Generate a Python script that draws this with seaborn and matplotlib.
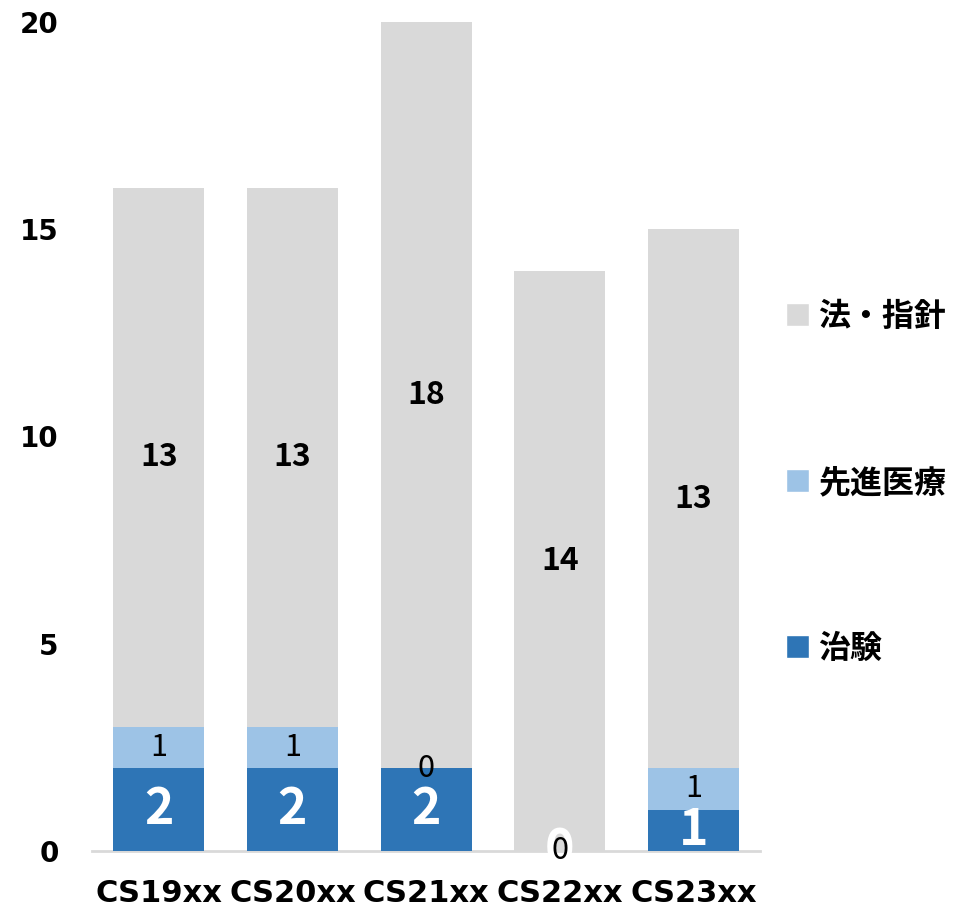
import matplotlib
matplotlib.use("Agg")
import matplotlib.pyplot as plt
import seaborn as sns
import pandas as pd
import numpy as np
from matplotlib.patches import Patch

categories = ["CS19xx", "CS20xx", "CS21xx", "CS22xx", "CS23xx"]
chiken = [2, 2, 2, 0, 1]          # 治験
senshin = [1, 1, 0, 0, 1]         # 先進医療
hoshishin = [13, 13, 18, 14, 13]  # 法・指針
series_names = ["治験", "先進医療", "法・指針"]
y_ticks = [0, 5, 10, 15, 20]

c_dark = "#2E75B6"
c_light = "#9DC3E6"
c_gray = "#D9D9D9"

sns.set_theme(style="white")
plt.rcParams["font.family"] = ["Noto Sans CJK JP", "DejaVu Sans"]
plt.rcParams["text.color"] = "black"
plt.rcParams["xtick.color"] = "black"
plt.rcParams["ytick.color"] = "black"
plt.rcParams["xtick.labelcolor"] = "black"
plt.rcParams["ytick.labelcolor"] = "black"

df = pd.DataFrame({"cat": categories, "chiken": chiken, "senshin": senshin, "ho": hoshishin})
df["c1"] = df["chiken"]
df["c2"] = df["chiken"] + df["senshin"]
df["c3"] = df["c2"] + df["ho"]

fig = plt.figure(figsize=(9.7, 9.11), dpi=100)
ax = fig.add_axes([0.0948, 0.0659, 0.689, 0.910])

w = 0.68
sns.barplot(data=df, x="cat", y="c3", color=c_gray, width=w, saturation=1, linewidth=0, ax=ax)
sns.barplot(data=df, x="cat", y="c2", color=c_light, width=w, saturation=1, linewidth=0, ax=ax)
sns.barplot(data=df, x="cat", y="c1", color=c_dark, width=w, saturation=1, linewidth=0, ax=ax)

jp = ["Noto Sans CJK JP", "DejaVu Sans"]
for i in range(len(categories)):
    a, b, c = chiken[i], senshin[i], hoshishin[i]
    ax.text(i, a / 2, str(a), ha="center", va="center", color="white",
            fontsize=36, fontweight="bold", family=jp)
    ax.text(i, a + b / 2, str(b), ha="center", va="center", color="black",
            fontsize=22, fontweight="normal", family=jp)
    ax.text(i, a + b + c / 2, str(c), ha="center", va="center", color="black",
            fontsize=23, fontweight="bold", family=jp)

ax.set_xlim(-0.5, 4.5)
ax.set_ylim(0, 20)
ax.set_yticks(y_ticks)
ax.set_yticklabels([str(t) for t in y_ticks], fontsize=20, fontweight="bold",
                   family=["DejaVu Sans"], color="black")
ax.set_xticks(range(len(categories)))
ax.set_xticklabels(categories, fontsize=22, fontweight="bold", family=["DejaVu Sans"],
                   color="black")
ax.tick_params(axis="y", length=0, pad=24)
ax.tick_params(axis="x", length=0, pad=20)
ax.set_xlabel("")
ax.set_ylabel("")
for s in ["left", "right", "top"]:
    ax.spines[s].set_visible(False)
ax.spines["bottom"].set_color(c_gray)
ax.spines["bottom"].set_linewidth(2)
ax.spines["bottom"].set_zorder(0.5)

handles = [Patch(facecolor=c_gray, label=series_names[2]),
           Patch(facecolor=c_light, label=series_names[1]),
           Patch(facecolor=c_dark, label=series_names[0])]
leg = ax.legend(handles=handles, loc="center left", bbox_to_anchor=(0.995, 0.444),
                frameon=False, labelspacing=4.2, handlelength=0.72, handleheight=0.72,
                handletextpad=0.3, labelcolor="black",
                prop={"family": jp, "weight": "bold", "size": 23})

fig.savefig("out.png", dpi=100)
